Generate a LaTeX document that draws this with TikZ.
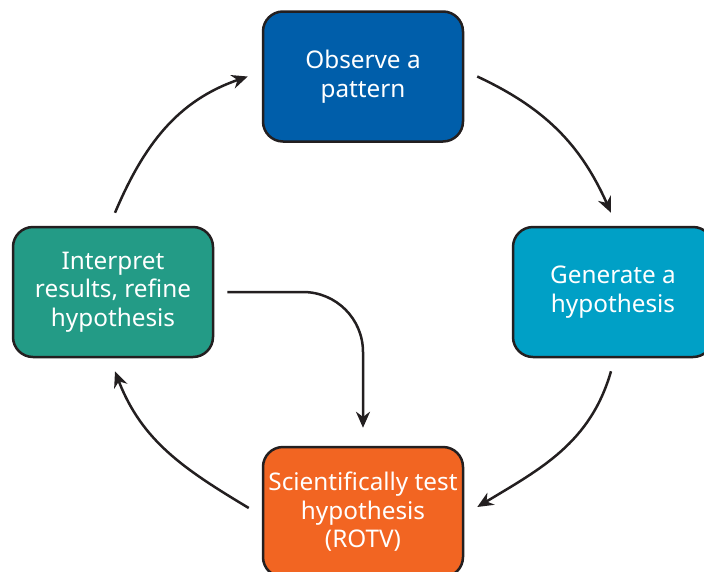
\documentclass[tikz,border=0pt]{standalone}
\usepackage{fontspec}
\setmainfont{Noto Sans}
\usetikzlibrary{arrows.meta}
\definecolor{cdark}{RGB}{35,31,32}
\definecolor{cblue}{RGB}{0,94,170}
\definecolor{ccyan}{RGB}{0,160,198}
\definecolor{cteal}{RGB}{35,155,134}
\definecolor{corange}{RGB}{242,101,34}
\begin{document}
\begin{tikzpicture}[x=1pt,y=-1pt,
  box/.style={draw=cdark, line width=2.5pt, rounded corners=20pt,
    minimum width=200pt, minimum height=130pt, text=white, align=center,
    font=\fontsize{24.3}{28.5}\selectfont, inner sep=0pt},
  flow/.style={draw=cdark, line width=2.5pt, -{Stealth[length=16pt,width=14pt]}}]
\useasboundingbox (0,0) rectangle (704,571);
\node[box, fill=cblue] (obs) at (363,76.5) {Observe a\\pattern};
\node[box, fill=ccyan] (gen) at (613,292) {Generate a\\hypothesis};
\node[box, fill=cteal] (int) at (113,292) {Interpret\\results, refine\\hypothesis};
\node[box, fill=corange] (sci) at (363,512) {Scientifically test\\hypothesis\\(ROTV)};
\draw[flow] ([xshift=13pt]obs.east) to[out=-25,in=114] ([xshift=-2pt,yshift=13pt]gen.north);
\draw[flow] ([xshift=-2pt,yshift=-13pt]gen.south) to[out=-106,in=31] ([xshift=13pt,yshift=5pt]sci.east);
\draw[flow] ([xshift=-13pt,yshift=4pt]sci.west) to[out=149,in=-69] ([xshift=2pt,yshift=-13pt]int.south);
\draw[flow] ([xshift=2pt,yshift=13pt]int.north) to[out=67,in=199] ([xshift=-14pt]obs.west);
\draw[flow, rounded corners=60pt] ([xshift=13pt]int.east) -| ([yshift=18pt]sci.north);
\end{tikzpicture}
\end{document}
